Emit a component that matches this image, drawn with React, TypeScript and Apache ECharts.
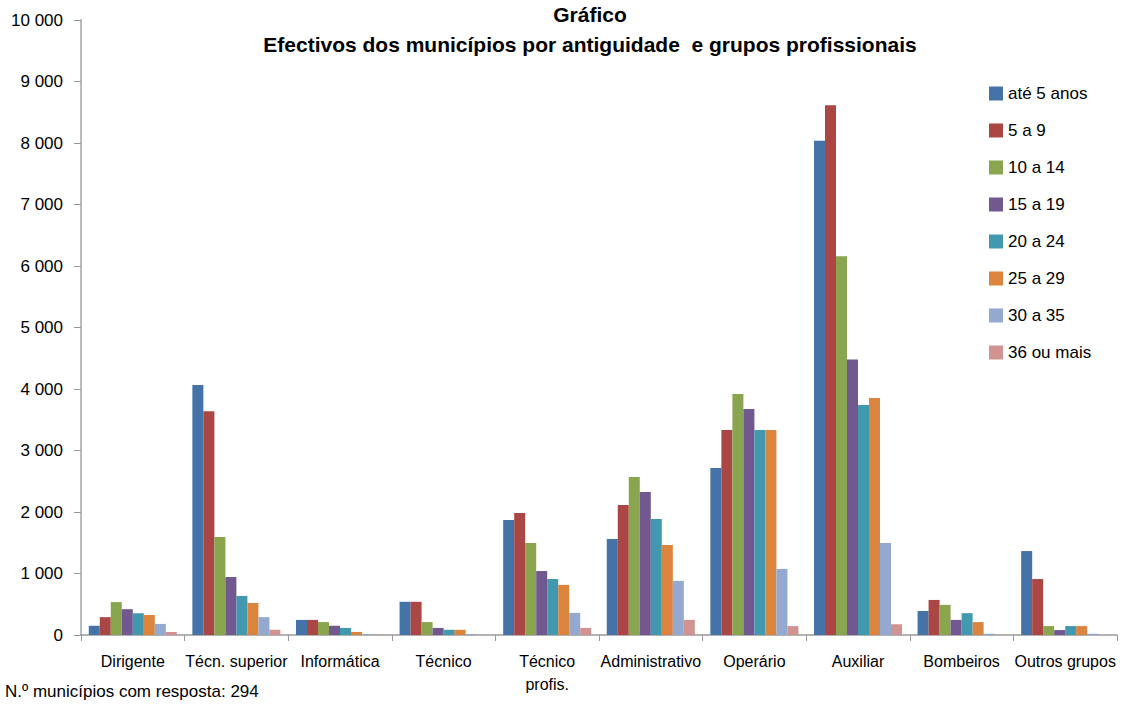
import React, { useEffect, useRef } from "react";
import * as echarts from "echarts";

const categories = [
  "Dirigente",
  "Técn. superior",
  "Informática",
  "Técnico",
  "Técnico\nprofis.",
  "Administrativo",
  "Operário",
  "Auxiliar",
  "Bombeiros",
  "Outros grupos",
];

const seriesNames = [
  "até 5 anos",
  "5 a 9",
  "10 a 14",
  "15 a 19",
  "20 a 24",
  "25 a 29",
  "30 a 35",
  "36 ou mais",
];

const ate5 = [150, 4065, 245, 540, 1870, 1560, 2715, 8035, 390, 1365];
const de5a9 = [290, 3640, 245, 540, 1985, 2115, 3335, 8615, 570, 910];
const de10a14 = [535, 1595, 210, 210, 1495, 2570, 3920, 6160, 490, 145];
const de15a19 = [420, 945, 150, 115, 1040, 2325, 3675, 4480, 245, 80];
const de20a24 = [355, 635, 115, 85, 910, 1885, 3335, 3740, 355, 145];
const de25a29 = [325, 520, 50, 85, 815, 1465, 3335, 3855, 210, 145];
const de30a35 = [180, 290, 15, 15, 360, 880, 1075, 1495, 20, 20];
const de36mais = [50, 85, 5, 3, 115, 245, 145, 175, 3, 3];

const seriesValues = [ate5, de5a9, de10a14, de15a19, de20a24, de25a29, de30a35, de36mais];

const colors = ["#4572A7", "#AA4643", "#89A54E", "#71588F", "#4198AF", "#DB843D", "#93A9CF", "#D19392"];

const titleLines = ["Gráfico", "Efectivos dos municípios por antiguidade  e grupos profissionais"];
const footnote = "N.º municípios com resposta: 294";

const FONT = "'Liberation Sans Narrow', 'Arial Narrow', 'Liberation Sans', Arial, sans-serif";

// thousands separated by a space, e.g. 10 000
const fmt = (v: number) => {
  const s = String(Math.round(v));
  return s.replace(/\B(?=(\d{3})+(?!\d))/g, " ");
};

export default function App() {
  const ref = useRef<HTMLDivElement>(null);

  useEffect(() => {
    if (!ref.current) return;
    const chart = echarts.init(ref.current, undefined, { renderer: "svg" });
    chart.setOption({
      animation: false,
      backgroundColor: "#ffffff",
      color: colors,
      textStyle: { fontFamily: FONT, color: "#000" },
      grid: { left: 81, right: 12, top: 20, bottom: 69, containLabel: false },
      legend: {
        orient: "vertical",
        left: 984,
        top: 80,
        icon: "rect",
        itemWidth: 14,
        itemHeight: 14,
        itemGap: 20,
        textStyle: { fontFamily: FONT, fontSize: 17, color: "#000", padding: [0, 0, 0, 0] },
        data: seriesNames,
      },
      xAxis: {
        type: "category",
        data: categories,
        axisLine: { lineStyle: { color: "#999999", width: 1.5 } },
        axisTick: { show: true, length: 6, alignWithLabel: false, lineStyle: { color: "#999999" } },
        axisLabel: {
          interval: 0,
          margin: 15,
          fontFamily: FONT,
          fontSize: 16,
          lineHeight: 23,
          color: "#000",
        },
      },
      yAxis: {
        type: "value",
        min: 0,
        max: 10000,
        interval: 1000,
        splitLine: { show: false },
        axisLine: { show: true, lineStyle: { color: "#bbbbbb", width: 2 } },
        axisTick: { show: true, length: 7, lineStyle: { color: "#999999" } },
        axisLabel: {
          margin: 18,
          fontFamily: FONT,
          fontSize: 17,
          color: "#000",
          formatter: (v: number) => fmt(v),
        },
      },
      series: seriesNames.map((name, i) => ({
        name,
        type: "bar",
        data: seriesValues[i],
        barGap: "0%",
        barCategoryGap: "15%",
      })),
      graphic: [
        {
          type: "text",
          x: 590,
          y: 4,
          style: {
            text: titleLines[0],
            textAlign: "center",
            fontFamily: FONT,
            fontWeight: "bold",
            fontSize: 21,
            fill: "#000",
          },
        },
        {
          type: "text",
          x: 590,
          y: 34,
          style: {
            text: titleLines[1],
            textAlign: "center",
            fontFamily: FONT,
            fontWeight: "bold",
            fontSize: 21,
            fill: "#000",
          },
        },
        {
          type: "text",
          x: 5,
          y: 683,
          style: {
            text: footnote,
            fontFamily: FONT,
            fontSize: 17,
            fill: "#000",
          },
        },
      ],
    });
    return () => chart.dispose();
  }, []);

  return (
    <div
      ref={ref}
      style={{ position: "absolute", left: 0, top: 0, width: 1129, height: 704 }}
    />
  );
}
